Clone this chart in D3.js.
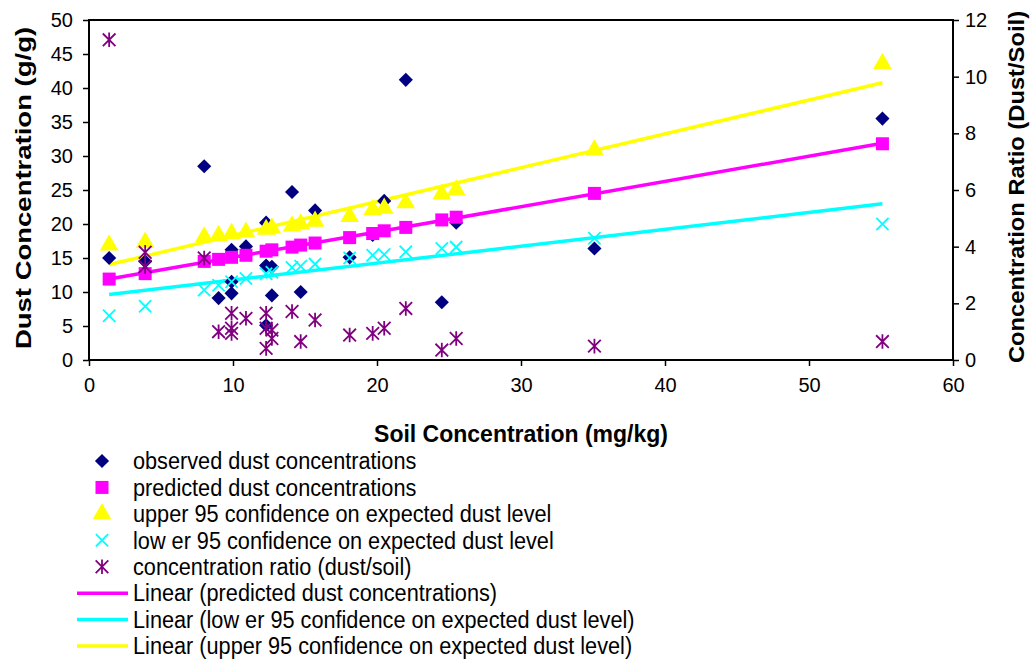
<!DOCTYPE html>
<html>
<head>
<meta charset="utf-8">
<script src="https://cdn.jsdelivr.net/npm/d3@7"></script>
<style>
  body { margin: 0; background: #fff; }
  text { font-family: "Liberation Sans", Arial, sans-serif; fill: #000; }
</style>
</head>
<body>
<div id="chart"></div>
<script>
// soil concentration of every sample (mg/kg)
const soil = [1.4, 3.9, 3.9, 8.0, 9.0, 9.9, 9.9, 9.9, 10.9, 12.3, 12.3, 12.3, 12.7, 12.7,
  14.1, 14.7, 15.7, 18.1, 19.7, 20.5, 22.0, 24.5, 25.5, 35.1, 55.1];
// observed dust concentrations (g/g)
const observed = [15.0, 14.5, 12.9, 28.5, 9.1, 16.2, 9.8, 11.5, 16.7, 20.2, 13.9, 5.1, 13.7, 9.5,
  24.7, 10.0, 22.0, 15.1, 18.4, 23.4, 41.2, 8.5, 20.2, 16.4, 35.5];
// concentration ratio dust/soil (right axis)
const ratio = [11.3, 3.8, 3.3, 3.6, 1.0, 1.65, 0.94, 1.12, 1.47, 1.65, 1.12, 0.41, 1.06, 0.76,
  1.71, 0.65, 1.41, 0.88, 0.94, 1.12, 1.82, 0.35, 0.76, 0.49, 0.65];

// model values at each distinct soil level
const soilLevels = [1.4, 3.9, 8.0, 9.0, 9.9, 10.9, 12.3, 12.7, 14.1, 14.7, 15.7, 18.1, 19.7, 20.5,
  22.0, 24.5, 25.5, 35.1, 55.1];
const predicted = [11.9, 12.7, 14.5, 14.8, 15.1, 15.4, 16.0, 16.2, 16.6, 16.9, 17.2, 18.0, 18.6, 19.0,
  19.5, 20.6, 21.0, 24.5, 31.8];
const upper = [16.9, 17.3, 18.1, 18.3, 18.6, 18.8, 19.2, 19.4, 19.7, 20.0, 20.4, 21.1, 22.1, 22.3,
  23.1, 24.4, 25.0, 30.9, 43.6];
const lower = [6.5, 7.9, 10.3, 11.0, 11.5, 12.0, 12.7, 12.9, 13.6, 13.8, 14.1, 15.0, 15.4, 15.5,
  15.9, 16.4, 16.6, 17.9, 20.0];

const xTicks = [0, 10, 20, 30, 40, 50, 60];
const yTicks = [0, 5, 10, 15, 20, 25, 30, 35, 40, 45, 50];
const y2Ticks = [0, 2, 4, 6, 8, 10, 12];

const legendLabels = [
  "observed dust concentrations",
  "predicted dust concentrations",
  "upper 95 confidence on expected dust level",
  "low er 95 confidence on expected dust level",
  "concentration ratio (dust/soil)",
  "Linear (predicted dust concentrations)",
  "Linear (low er 95 confidence on expected dust level)",
  "Linear (upper 95 confidence on expected dust level)"
];

var width = 1030, height = 660;
var margin = { top: 20, left: 89, right: 77, bottom: 300 };
var plotW = width - margin.left - margin.right;
var plotH = height - margin.top - margin.bottom;

var svg = d3.select("#chart").append("svg")
  .attr("width", width)
  .attr("height", height);

var xScale = d3.scaleLinear().domain([0, 60]).range([margin.left, margin.left + plotW]);
var yScale = d3.scaleLinear().domain([0, 50]).range([margin.top + plotH, margin.top]);
var y2Scale = d3.scaleLinear().domain([0, 12]).range([margin.top + plotH, margin.top]);

// custom marker shapes (Excel style)
var diamond = {
  draw: function (ctx, size) {
    var r = Math.sqrt(size) / 2 * Math.SQRT2;
    ctx.moveTo(0, -r); ctx.lineTo(r, 0); ctx.lineTo(0, r); ctx.lineTo(-r, 0); ctx.closePath();
  }
};
var cross = {
  draw: function (ctx, size) {
    var r = Math.sqrt(size) / 2;
    ctx.moveTo(-r, -r); ctx.lineTo(r, r); ctx.moveTo(r, -r); ctx.lineTo(-r, r);
  }
};
var star = {
  draw: function (ctx, size) {
    var r = Math.sqrt(size) / 2;
    ctx.moveTo(-r, -r); ctx.lineTo(r, r); ctx.moveTo(r, -r); ctx.lineTo(-r, r);
    ctx.moveTo(0, -r * 1.15); ctx.lineTo(0, r * 1.15);
  }
};

var series = [
  { xs: soil, ys: observed, scale: yScale, type: diamond, size: 100, fill: "#000080", stroke: "none" },
  { xs: soilLevels, ys: predicted, scale: yScale, type: d3.symbolSquare, size: 169, fill: "#ff00ff", stroke: "none" },
  { xs: soilLevels, ys: upper, scale: yScale, type: d3.symbolTriangle, size: 150, fill: "#ffff00", stroke: "none" },
  { xs: soilLevels, ys: lower, scale: yScale, type: cross, size: 150, fill: "none", stroke: "#00ffff" },
  { xs: soil, ys: ratio, scale: y2Scale, type: star, size: 160, fill: "none", stroke: "#800080" }
];

// least squares trend line for a series
function linearFit(xs, ys) {
  var mx = d3.mean(xs), my = d3.mean(ys);
  var sxy = d3.sum(xs, (x, i) => (x - mx) * (ys[i] - my));
  var sxx = d3.sum(xs, x => (x - mx) * (x - mx));
  var b = sxy / sxx;
  return { a: my - b * mx, b: b };
}

var trends = [
  { xs: soilLevels, ys: predicted, color: "#ff00ff" },
  { xs: soilLevels, ys: lower, color: "#00ffff" },
  { xs: soilLevels, ys: upper, color: "#ffff00" }
];

// plot border
svg.append("rect")
  .attr("x", margin.left).attr("y", margin.top)
  .attr("width", plotW).attr("height", plotH)
  .attr("fill", "none").attr("stroke", "#000").attr("stroke-width", 2);

// trend lines (drawn under markers)
var line = d3.line().x(d => xScale(d[0])).y(d => yScale(d[1]));
trends.forEach(function (t) {
  var fit = linearFit(t.xs, t.ys);
  var x0 = d3.min(t.xs), x1 = d3.max(t.xs);
  svg.append("path")
    .datum([[x0, fit.a + fit.b * x0], [x1, fit.a + fit.b * x1]])
    .attr("d", line)
    .attr("fill", "none")
    .attr("stroke", t.color)
    .attr("stroke-width", 3.5);
});

// markers
series.forEach(function (s) {
  svg.append("g")
    .selectAll("path")
    .data(s.xs.map((x, i) => [x, s.ys[i]]))
    .enter()
    .append("path")
    .attr("transform", d => `translate(${xScale(d[0])},${s.scale(d[1])})`)
    .attr("d", d3.symbol().type(s.type).size(s.size))
    .attr("fill", s.fill)
    .attr("stroke", s.stroke)
    .attr("stroke-width", 1.8);
});

// axes
function styleAxis(g) {
  g.select(".domain").remove();
  g.selectAll(".tick line").attr("stroke", "#000").attr("stroke-width", 1.5);
  g.selectAll(".tick text").style("font-size", "20px").attr("fill", "#000")
    .style("font-family", '"Liberation Sans", Arial, sans-serif');
}

svg.append("g")
  .attr("transform", `translate(0, ${margin.top + plotH})`)
  .call(d3.axisBottom(xScale).tickValues(xTicks).tickSize(6).tickPadding(12))
  .call(styleAxis);

svg.append("g")
  .attr("transform", `translate(${margin.left}, 0)`)
  .call(d3.axisLeft(yScale).tickValues(yTicks).tickSize(6).tickPadding(10))
  .call(styleAxis);

svg.append("g")
  .attr("transform", `translate(${margin.left + plotW}, 0)`)
  .call(d3.axisRight(y2Scale).tickValues(y2Ticks).tickSize(6).tickPadding(6))
  .call(styleAxis);

// axis titles
svg.append("text")
  .attr("x", margin.left + plotW / 2).attr("y", 442)
  .attr("text-anchor", "middle")
  .style("font-size", "23px").style("font-weight", "bold")
  .text("Soil Concentration (mg/kg)");

svg.append("text")
  .attr("transform", `translate(31, ${margin.top + 168}) rotate(-90) scale(1.25, 1)`)
  .attr("text-anchor", "middle")
  .style("font-size", "22px").style("font-weight", "bold")
  .text("Dust Concentration (g/g)");

svg.append("text")
  .attr("transform", `translate(1024, ${margin.top + 167}) rotate(-90) scale(1.08, 1)`)
  .attr("text-anchor", "middle")
  .style("font-size", "22px").style("font-weight", "bold")
  .text("Concentration Ratio (Dust/Soil)");

// legend
var legendY = d3.scalePoint().domain(d3.range(legendLabels.length)).range([461, 646]);
var legend = svg.append("g");
legendLabels.forEach(function (label, i) {
  var y = legendY(i);
  if (i < series.length) {
    var s = series[i];
    legend.append("path")
      .attr("transform", `translate(102, ${y})`)
      .attr("d", d3.symbol().type(s.type).size(s.size))
      .attr("fill", s.fill)
      .attr("stroke", s.stroke)
      .attr("stroke-width", 1.8);
  } else {
    legend.append("line")
      .attr("x1", 77).attr("x2", 128).attr("y1", y).attr("y2", y)
      .attr("stroke", trends[i - series.length].color)
      .attr("stroke-width", 3.5);
  }
  legend.append("text")
    .attr("transform", `translate(133, ${y}) scale(1, 1.1)`)
    .attr("dy", "0.35em")
    .style("font-size", "21.7px")
    .text(label);
});
</script>
</body>
</html>
